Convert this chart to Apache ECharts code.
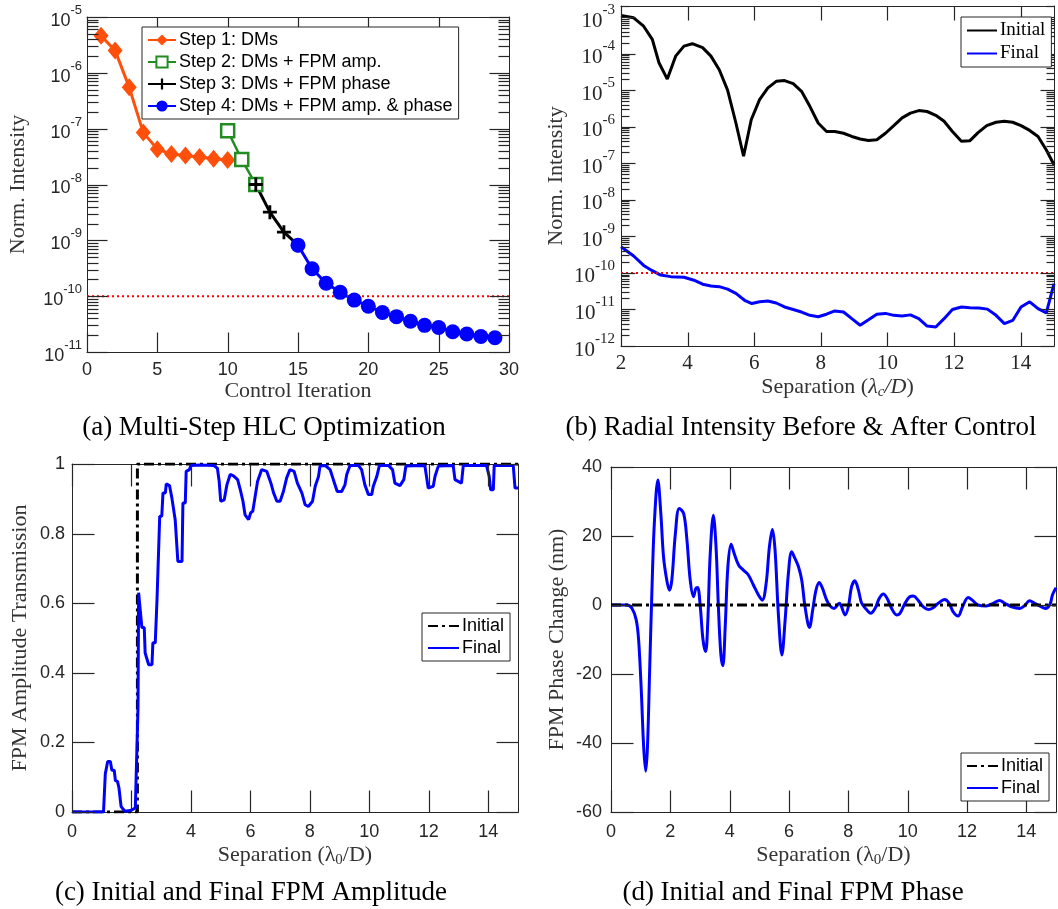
<!DOCTYPE html>
<html>
<head>
<meta charset="utf-8">
<script src="https://cdn.jsdelivr.net/npm/echarts@6/dist/echarts.min.js"></script>
<style>
  html, body { margin: 0; padding: 0; background: #fff; }
  #main { width: 1058px; height: 909px; }
</style>
</head>
<body>
<div id="main"></div>
<script>
// (a) multi-step HLC optimization
const aIter1 = [1, 2, 3, 4, 5, 6, 7, 8, 9, 10];
const aStep1 = [4.6e-6, 2.5e-6, 5.5e-7, 8.5e-8, 4.3e-8, 3.5e-8, 3.3e-8, 3.1e-8, 2.9e-8, 2.75e-8];
const aIter2 = [10, 11, 12];
const aStep2 = [9.2e-8, 2.8e-8, 1.0e-8];
const aIter3 = [12, 13, 14, 15];
const aStep3 = [1.0e-8, 3.2e-9, 1.4e-9, 8.2e-10];
const aIter4 = [15, 16, 17, 18, 19, 20, 21, 22, 23, 24, 25, 26, 27, 28, 29];
const aStep4 = [8.2e-10, 3.1e-10, 1.7e-10, 1.17e-10, 8.5e-11, 6.6e-11, 5.1e-11, 4.3e-11,
                3.55e-11, 3.0e-11, 2.75e-11, 2.3e-11, 2.1e-11, 1.9e-11, 1.8e-11];
const aGoalX = [0, 30];
const aGoal = [1e-10, 1e-10];
const aIterTicks = [0, 5, 10, 15, 20, 25, 30];
const aDecades = [1e-11, 1e-10, 1e-9, 1e-8, 1e-7, 1e-6, 1e-5];

// (b) radial intensity before & after control
const bInitX = [2.0, 2.38, 2.68, 2.94, 3.14, 3.39, 3.64, 3.89, 4.14, 4.45, 4.70, 4.95, 5.20, 5.45, 5.68,
  5.91, 6.16, 6.41, 6.66, 6.91, 7.17, 7.42, 7.67, 7.92, 8.17, 8.42, 8.68, 8.93, 9.18, 9.43, 9.68,
  9.94, 10.19, 10.44, 10.69, 10.94, 11.19, 11.45, 11.70, 11.95, 12.22, 12.47, 12.72, 12.98, 13.26,
  13.51, 13.76, 14.01, 14.27, 14.52, 14.77, 15.0];
const bInit = [1.1e-3, 9.5e-4, 5.6e-4, 2.45e-4, 5.6e-5, 2.0e-5, 8.5e-5, 1.6e-4, 1.86e-4, 1.45e-4, 8.5e-5,
  3.6e-5, 1.0e-5, 1.26e-6, 1.55e-7, 1.55e-6, 5.5e-6, 1.15e-5, 1.74e-5, 1.82e-5, 1.5e-5, 9.3e-6, 3.6e-6,
  1.26e-6, 7.4e-7, 7.4e-7, 6.6e-7, 5.4e-7, 4.6e-7, 4.2e-7, 4.4e-7, 6.6e-7, 1.07e-6, 1.74e-6, 2.35e-6,
  2.75e-6, 2.6e-6, 2.05e-6, 1.4e-6, 7.4e-7, 4.0e-7, 4.1e-7, 6.9e-7, 1.07e-6, 1.32e-6, 1.4e-6, 1.32e-6,
  1.07e-6, 7.9e-7, 5.4e-7, 2.3e-7, 9.1e-8];
const bFinalX = [2.0, 2.38, 2.68, 2.94, 3.19, 3.49, 3.89, 4.19, 4.45, 4.70, 4.95, 5.20, 5.45, 5.71, 5.93,
  6.16, 6.41, 6.66, 6.91, 7.17, 7.42, 7.67, 7.92, 8.17, 8.42, 8.68, 8.93, 9.18, 9.43, 9.68, 9.94,
  10.19, 10.44, 10.69, 10.94, 11.19, 11.45, 11.70, 11.95, 12.22, 12.47, 12.75, 13.0, 13.26, 13.51,
  13.76, 14.01, 14.27, 14.52, 14.77, 15.0];
const bFinal = [5.2e-10, 2.9e-10, 1.6e-10, 1.15e-10, 8.7e-11, 7.9e-11, 7.6e-11, 6.3e-11, 4.9e-11, 4.4e-11,
  4.2e-11, 3.6e-11, 2.75e-11, 1.78e-11, 1.45e-11, 1.62e-11, 1.7e-11, 1.5e-11, 1.17e-11, 1.0e-11, 8.5e-12,
  6.9e-12, 6.3e-12, 7.4e-12, 9.1e-12, 8.5e-12, 5.6e-12, 3.7e-12, 5.2e-12, 7.4e-12, 7.8e-12, 6.9e-12,
  6.6e-12, 7.1e-12, 5.6e-12, 3.5e-12, 3.3e-12, 5.6e-12, 1.0e-11, 1.17e-11, 1.12e-11, 1.1e-11, 1.02e-11,
  6.9e-12, 4.1e-12, 5.0e-12, 1.17e-11, 1.62e-11, 1.05e-11, 8.1e-12, 5.1e-11];
const bGoalX = [2, 15];
const bGoal = [1e-10, 1e-10];
const bSepTicks = [2, 4, 6, 8, 10, 12, 14];
const bDecades = [1e-12, 1e-11, 1e-10, 1e-9, 1e-8, 1e-7, 1e-6, 1e-5, 1e-4, 1e-3];

// (c) FPM amplitude
const cInitX = [0, 2.2, 2.2, 15];
const cInit = [0, 0, 1, 1];
const cFinalX = [0, 1.06, 1.12, 1.2, 1.29, 1.34, 1.42, 1.46, 1.53, 1.58, 1.65, 1.71, 1.79, 1.96, 2.13, 2.18,
  2.22, 2.24, 2.30, 2.35, 2.43, 2.46, 2.52, 2.58, 2.69, 2.72, 2.80, 2.86, 2.91, 2.95, 3.02, 3.06, 3.14,
  3.17, 3.28, 3.36, 3.42, 3.47, 3.53, 3.56, 3.70, 3.73, 3.81, 3.84, 3.95, 4.0, 4.31, 4.76, 4.89, 4.95,
  5.0, 5.12, 5.21, 5.32, 5.43, 5.57, 5.66, 5.75, 5.82, 5.94, 6.01, 6.08, 6.16, 6.24, 6.38, 6.55, 6.69,
  6.78, 6.89, 7.0, 7.11, 7.22, 7.33, 7.47, 7.58, 7.73, 7.84, 7.95, 8.09, 8.18, 8.29, 8.34, 8.51, 8.68,
  8.79, 8.92, 9.07, 9.18, 9.24, 9.35, 9.63, 9.74, 9.85, 9.97, 10.08, 10.13, 10.25, 10.34, 10.64, 10.78,
  10.86, 11.03, 11.16, 11.23, 11.70, 11.87, 11.98, 12.15, 12.21, 12.32, 12.82, 12.88, 13.10, 13.16,
  13.94, 14.03, 14.08, 14.17, 14.2, 14.84, 14.9, 15.0];
const cFinal = [0, 0, 0.11, 0.145, 0.145, 0.12, 0.12, 0.09, 0.088, 0.069, 0.016, 0.009, 0.002, 0.004, 0.011,
  0.016, 0.30, 0.63, 0.63, 0.53, 0.53, 0.457, 0.457, 0.423, 0.423, 0.486, 0.486, 0.612, 0.612, 0.85, 0.85,
  0.917, 0.917, 0.943, 0.938, 0.902, 0.902, 0.84, 0.84, 0.72, 0.72, 0.888, 0.888, 0.979, 0.984, 0.996,
  0.997, 0.996, 0.988, 0.95, 0.893, 0.897, 0.94, 0.97, 0.966, 0.955, 0.926, 0.893, 0.854, 0.84, 0.86,
  0.864, 0.907, 0.95, 0.984, 0.979, 0.945, 0.917, 0.893, 0.893, 0.921, 0.96, 0.984, 0.979, 0.945, 0.917,
  0.883, 0.878, 0.893, 0.936, 0.964, 0.994, 0.996, 0.984, 0.955, 0.921, 0.921, 0.940, 0.97, 0.996, 0.996,
  0.984, 0.94, 0.912, 0.912, 0.935, 0.964, 0.996, 0.996, 0.984, 0.945, 0.938, 0.955, 0.994, 0.996, 0.994,
  0.931, 0.936, 0.965, 0.994, 0.996, 0.955, 0.945, 0.996, 0.996, 0.965, 0.926, 0.926, 0.996, 0.996,
  0.931, 0.931];
const sepTicks = [0, 2, 4, 6, 8, 10, 12, 14];
const cAmpTicks = [0, 0.2, 0.4, 0.6, 0.8, 1];

// (d) FPM phase
const dInitX = [0, 15];
const dInit = [0, 0];
const dFinalX = [0, 0.54, 0.71, 0.85, 0.93, 1.02, 1.10, 1.17, 1.23, 1.30, 1.38, 1.46, 1.58, 1.68, 1.77,
  1.88, 1.97, 2.05, 2.17, 2.30, 2.45, 2.56, 2.67, 2.78, 2.86, 2.92, 3.01, 3.10, 3.19, 3.26, 3.34, 3.45,
  3.54, 3.62, 3.70, 3.77, 3.85, 3.94, 4.05, 4.15, 4.30, 4.46, 4.63, 4.80, 4.97, 5.10, 5.23, 5.34, 5.44,
  5.53, 5.64, 5.76, 5.87, 5.98, 6.09, 6.20, 6.32, 6.43, 6.54, 6.69, 6.80, 6.91, 7.02, 7.13, 7.27, 7.38,
  7.52, 7.70, 7.77, 7.89, 8.0, 8.11, 8.22, 8.34, 8.45, 8.62, 8.75, 8.90, 9.04, 9.18, 9.31, 9.46, 9.63,
  9.74, 9.91, 10.07, 10.19, 10.35, 10.52, 10.69, 10.86, 11.03, 11.25, 11.40, 11.53, 11.70, 11.85, 12.04,
  12.18, 12.37, 12.65, 12.88, 13.10, 13.27, 13.50, 13.78, 13.94, 14.11, 14.28, 14.50, 14.67, 14.81,
  14.88, 15.0];
const dFinal = [0, 0, -1, -4.3, -10, -24.6, -41, -48.2, -41, -19.8, 4.3, 23.6, 36.2, 26.5, 14, 7.2, 4.3,
  7.2, 20.7, 28, 26.5, 18.8, 7.2, 2.4, 4.8, 5.1, -0.5, -10, -13.5, -5.3, 14, 26, 16.9, -0.5, -14, -17.6,
  -6.3, 11.1, 17.6, 15, 11.6, 10.1, 8.7, 5.8, 2.9, 1.4, 6.3, 16.9, 21.9, 15.9, -2.4, -14.5, -4.3, 9.2,
  15.4, 13.5, 11.1, 7.2, -0.5, -6.5, -1.4, 4.3, 6.5, 4.8, 1.4, -0.2, -1, 0.5, -0.5, -2.9, -0.5, 5.3, 7.0,
  4.3, 0.5, -1.4, -2.4, -1, 1.9, 3.2, 1.9, -1, -2.9, -2.4, 0.5, 2.4, 2.6, 1.4, -0.5, -1.3, -0.8, 0.5,
  1.6, 0.5, -1.9, -3.2, -0.5, 2.2, 1.4, 0, -0.3, 0.5, 1.3, 0.5, -0.5, -1, -0.2, 1.2, 0.5, -0.5, -1, 0.5,
  2.9, 5];
const dPhaseTicks = [-60, -40, -20, 0, 20, 40];

const SANS = '"Liberation Sans", Arial, sans-serif';
const SERIF = '"Liberation Serif", "Times New Roman", serif';
const TXT = '#262626';
const TITLE = '#333333';
const TICK = '#262626';
const ORANGE = '#FF4F0A', GREEN = '#228B22', BLUE = '#0000FF', RED = '#FF0000';
const DASHDOT = [10, 4, 3, 4];

function pairs(xs, ys) { return xs.map((x, i) => [x, ys[i]]); }

// 2..9 x 10^e inside the axis range, for log minor ticks
function logMinors(lo, hi, max) {
  const out = [];
  for (let e = lo; e < hi; e++) {
    for (let k = 2; k <= 9; k++) {
      const v = k * Math.pow(10, e);
      if (v <= max) out.push(v);
    }
  }
  return out;
}

function sup10(v) {
  return '{b|10}{s|' + Math.round(Math.log10(v)) + '}';
}

function supRich(font, big, small) {
  return {
    b: { fontFamily: font, fontSize: big, color: TXT, lineHeight: big + 8, verticalAlign: 'bottom' },
    s: { fontFamily: font, fontSize: small, color: TXT, lineHeight: small, verticalAlign: 'top' }
  };
}

const boxLine = () => ({ show: true, onZero: false, lineStyle: { color: '#262626', width: 1 } });
const noTick = { show: false };
const noSplit = { show: false };
const titleStyle = { fontFamily: SERIF, fontSize: 22, color: TITLE };

// a labelled axis on the near side and a bare copy on the far side, closing the box
function axisPair(grid, dim, type, min, max, label, name, nameGap, nameStyle) {
  const base = { gridIndex: grid, type: type, min: min, max: max, splitLine: noSplit, axisTick: noTick,
    axisLine: boxLine() };
  if (type === 'log') base.logBase = 10;
  return [
    Object.assign({}, base, {
      position: dim === 'x' ? 'bottom' : 'left',
      axisLabel: Object.assign({ showMinLabel: true, showMaxLabel: true }, label),
      name: name, nameLocation: 'middle', nameGap: nameGap, nameTextStyle: nameStyle || titleStyle
    }),
    Object.assign({}, base, { position: dim === 'x' ? 'top' : 'right', axisLabel: { show: false } })
  ];
}

const sepNameStyle = {
  fontFamily: SERIF, fontSize: 22, color: TITLE,
  rich: {
    n: { fontFamily: SERIF, fontSize: 22, color: TITLE, lineHeight: 24, verticalAlign: 'top' },
    i: { fontFamily: SERIF, fontStyle: 'italic', fontSize: 22, color: TITLE, lineHeight: 24, verticalAlign: 'top' },
    sub: { fontFamily: SERIF, fontSize: 15, color: TITLE, lineHeight: 13, verticalAlign: 'bottom' },
    subi: { fontFamily: SERIF, fontStyle: 'italic', fontSize: 15, color: TITLE, lineHeight: 13, verticalAlign: 'bottom' }
  }
};

const sansLabel = { fontFamily: SANS, fontSize: 18, color: TXT };
const serifLabel = { fontFamily: SERIF, fontSize: 21, color: TXT };

// x axes: (a) 0-1, (b) 2-3, (c) 4-5, (d) 6-7 ; y axes the same
const xAxes = [].concat(
  axisPair(0, 'x', 'value', 0, 30, Object.assign({ customValues: aIterTicks, margin: 9 }, sansLabel),
    'Control Iteration', 28),
  axisPair(1, 'x', 'value', 2, 15, Object.assign({ customValues: bSepTicks, margin: 7 }, serifLabel),
    '{n|Separation (}{i|λ}{subi|c}{i|/D}{n|)}', 30, sepNameStyle),
  axisPair(2, 'x', 'value', 0, 15, Object.assign({ customValues: sepTicks, margin: 11 }, sansLabel),
    '{n|Separation (λ}{sub|0}{n|/D)}', 32, sepNameStyle),
  axisPair(3, 'x', 'value', 0, 15, Object.assign({ customValues: sepTicks, margin: 11 }, sansLabel),
    '{n|Separation (λ}{sub|0}{n|/D)}', 32, sepNameStyle)
);

const yAxes = [].concat(
  axisPair(0, 'y', 'log', 1e-11, 1e-5,
    { customValues: aDecades, formatter: sup10, margin: 5, rich: supRich(SANS, 18, 13) },
    'Norm. Intensity', 58),
  axisPair(1, 'y', 'log', 1e-12, 2e-3,
    { customValues: bDecades, formatter: sup10, margin: 6, rich: supRich(SERIF, 21, 15) },
    'Norm. Intensity', 54),
  axisPair(2, 'y', 'value', 0, 1, Object.assign({ customValues: cAmpTicks, margin: 7 }, sansLabel),
    'FPM Amplitude Transmission', 41),
  axisPair(3, 'y', 'value', -60, 40, Object.assign({ customValues: dPhaseTicks, margin: 9 }, sansLabel),
    'FPM Phase Change (nm)', 43)
);

// tick marks: short segments anchored at axis values on the box edge, pointing inwards
function tickSeries(ai, pts, dx, dy) {
  return {
    type: 'custom', coordinateSystem: 'cartesian2d', xAxisIndex: ai, yAxisIndex: ai,
    silent: true, z: 10, clip: false,
    data: pts, encode: { x: 0, y: 1 }, tooltip: { show: false },
    renderItem: function (params, api) {
      const p = api.coord([api.value(0), api.value(1)]);
      const x = Math.round(p[0]) + 0.5, y = Math.round(p[1]) + 0.5;
      return { type: 'line', shape: { x1: x, y1: y, x2: x + dx, y2: y + dy },
        style: { stroke: TICK, lineWidth: 1.2 } };
    }
  };
}

function boxTicks(ai, xr, yr, xVals, yVals, len, yMinor, minorLen) {
  const out = [
    tickSeries(ai, xVals.map(v => [v, yr[0]]), 0, -len),
    tickSeries(ai, xVals.map(v => [v, yr[1]]), 0, len),
    tickSeries(ai, yVals.map(v => [xr[0], v]), len, 0),
    tickSeries(ai, yVals.map(v => [xr[1], v]), -len, 0)
  ];
  if (yMinor) {
    out.push(tickSeries(ai, yMinor.map(v => [xr[0], v]), minorLen, 0));
    out.push(tickSeries(ai, yMinor.map(v => [xr[1], v]), -minorLen, 0));
  }
  return out;
}

function line(name, ai, xs, ys, color, width, extra) {
  return Object.assign({
    name: name, type: 'line', xAxisIndex: ai, yAxisIndex: ai, data: pairs(xs, ys),
    showSymbol: false, symbol: 'none', color: color, z: 2,
    lineStyle: { color: color, width: width }, emphasis: { disabled: true }
  }, extra || {});
}

const PLUS = 'path://M4,0L6,0L6,4L10,4L10,6L6,6L6,10L4,10L4,6L0,6L0,4L4,4Z';
const dotted = { color: RED, width: 2, type: [2, 3] };
const dashdot = { color: '#000', width: 3, type: DASHDOT };

const series = [].concat(
  [
    line('Step 1: DMs', 0, aIter1, aStep1, ORANGE, 3,
      { showSymbol: true, symbol: 'diamond', symbolSize: [15, 18], itemStyle: { color: ORANGE } }),
    line('Step 2: DMs + FPM amp.', 0, aIter2, aStep2, GREEN, 2.5,
      { showSymbol: true, symbol: 'rect', symbolSize: 13,
        itemStyle: { color: '#fff', borderColor: GREEN, borderWidth: 2.5 } }),
    line('Step 3: DMs + FPM phase', 0, aIter3, aStep3, '#000', 3,
      { showSymbol: true, symbol: PLUS, symbolSize: 14, itemStyle: { color: '#000' } }),
    line('Step 4: DMs + FPM amp. & phase', 0, aIter4, aStep4, BLUE, 3,
      { showSymbol: true, symbol: 'circle', symbolSize: 15, itemStyle: { color: BLUE } }),
    line('a-goal', 0, aGoalX, aGoal, RED, 2, { lineStyle: dotted }),

    line('b:Initial', 2, bInitX, bInit, '#000', 3),
    line('b:Final', 2, bFinalX, bFinal, BLUE, 3),
    line('b-goal', 2, bGoalX, bGoal, RED, 2, { lineStyle: dotted }),

    line('c:Initial', 4, cInitX, cInit, '#000', 3, { lineStyle: dashdot }),
    line('c:Final', 4, cFinalX, cFinal, BLUE, 3),

    line('d:Final', 6, dFinalX, dFinal, BLUE, 3, { smooth: 0.35 }),
    line('d:Initial', 6, dInitX, dInit, '#000', 3, { lineStyle: dashdot })
  ],
  boxTicks(0, [0, 30], [1e-11, 1e-5], aIterTicks, aDecades, 20, logMinors(-11, -5, 1e-5), 11),
  boxTicks(2, [2, 15], [1e-12, 2e-3], bSepTicks, bDecades, 14, logMinors(-12, -2, 2e-3), 8),
  boxTicks(4, [0, 15], [0, 1], sepTicks, cAmpTicks, 22),
  boxTicks(6, [0, 15], [-60, 40], sepTicks, dPhaseTicks, 22)
);

function legendBox(names, left, top, font, size, itemW, hideSymbol) {
  const lg = {
    data: names, orient: 'vertical', left: left, top: top, selectedMode: false, z: 20,
    itemWidth: itemW, itemHeight: 14, itemGap: 4, padding: [4, 6, 4, 5],
    backgroundColor: '#fff', borderColor: '#262626', borderWidth: 1, borderRadius: 0,
    formatter: n => n.indexOf(':') === 1 ? n.slice(2) : n,
    textStyle: { fontFamily: font, fontSize: size, color: '#000', padding: [0, 0, 0, -2] }
  };
  if (hideSymbol) lg.itemStyle = { opacity: 0 };
  return lg;
}

const caption = (text, x, y) => ({
  type: 'text', x: x, y: y,
  style: { text: text, fontFamily: SERIF, fontSize: 27, fill: '#000', align: 'center', verticalAlign: 'middle' }
});

const option = {
  animation: false,
  backgroundColor: '#fff',
  tooltip: { show: false },
  grid: [
    { left: 87, top: 17, width: 422, height: 335 },
    { left: 621, top: 6, width: 433, height: 340 },
    { left: 72, top: 464, width: 446, height: 348 },
    { left: 611, top: 467, width: 445, height: 345 }
  ].map(g => Object.assign(g, { show: false })),
  xAxis: xAxes,
  yAxis: yAxes,
  legend: [
    legendBox(['Step 1: DMs', 'Step 2: DMs + FPM amp.', 'Step 3: DMs + FPM phase', 'Step 4: DMs + FPM amp. & phase'],
      142, 27, SANS, 18, 28, false),
    legendBox(['b:Initial', 'b:Final'], 961, 17, SERIF, 19, 30, true),
    legendBox(['c:Initial', 'c:Final'], 422, 613, SANS, 18, 31, true),
    legendBox(['d:Initial', 'd:Final'], 961, 753, SANS, 18, 31, true)
  ],
  graphic: [
    caption('(a) Multi-Step HLC Optimization', 264, 428),
    caption('(b) Radial Intensity Before & After Control', 801, 428),
    caption('(c) Initial and Final FPM Amplitude', 251, 893),
    caption('(d) Initial and Final FPM Phase', 793, 893)
  ],
  series: series
};

const chart = echarts.init(document.getElementById('main'));
chart.setOption(option);
</script>
</body>
</html>
